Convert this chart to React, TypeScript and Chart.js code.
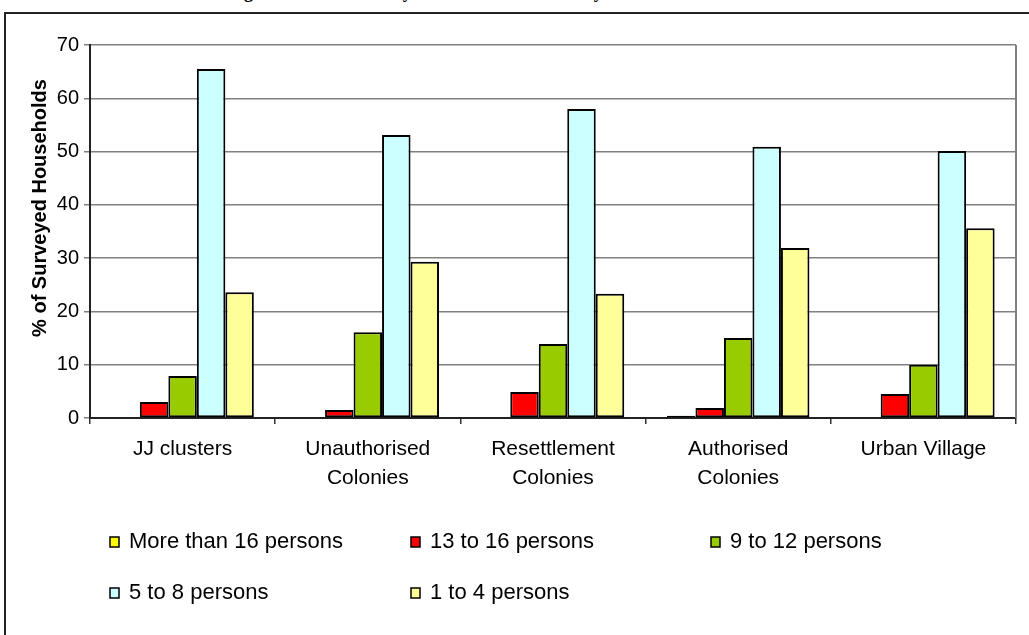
import React, { useEffect, useRef } from "react";
import { Chart, registerables } from "chart.js";

Chart.register(...registerables);

const categories: (string | string[])[] = [
  "JJ clusters",
  ["Unauthorised", "Colonies"],
  ["Resettlement", "Colonies"],
  ["Authorised", "Colonies"],
  "Urban Village",
];

const seriesNames = [
  "More than 16 persons",
  "13 to 16 persons",
  "9 to 12 persons",
  "5 to 8 persons",
  "1 to 4 persons",
];

const moreThan16 = [0, 0, 0, 0.4, 0];
const from13to16 = [3.0, 1.5, 4.9, 1.9, 4.5];
const from9to12 = [7.9, 16.1, 13.9, 15.0, 10.0];
const from5to8 = [65.5, 53.1, 58.0, 50.9, 50.1];
const from1to4 = [23.6, 29.3, 23.3, 31.9, 35.6];

const seriesColors = ["#FFFF00", "#FF0000", "#99CC00", "#CCFFFF", "#FFFF99"];

const yTicks = [0, 10, 20, 30, 40, 50, 60, 70];

const titleText = "Figure 4: Size of Family of Households in Surveyed Colonies";
const yAxisTitle = "% of Surveyed Households";

const FONT = "'Liberation Sans', Arial, sans-serif";

const legendPlugin = {
  id: "gridLegend",
  afterDraw(chart: any) {
    const ctx = chart.ctx;
    const cols = [110, 411, 711];
    const rows = [542, 593];
    ctx.save();
    chart.data.datasets.forEach((ds: any, i: number) => {
      const x = cols[i % 3];
      const y = rows[Math.floor(i / 3)];
      ctx.fillStyle = ds.backgroundColor;
      ctx.fillRect(x, y - 5, 9, 10);
      ctx.lineWidth = 1.5;
      ctx.strokeStyle = "#000";
      ctx.strokeRect(x, y - 5, 9, 10);
      ctx.fillStyle = "#000";
      ctx.font = `22px ${FONT}`;
      ctx.textBaseline = "middle";
      ctx.textAlign = "left";
      ctx.fillText(ds.label, x + 19, y);
    });
    ctx.restore();
  },
};

const yTitlePlugin = {
  id: "yTitle",
  afterDraw(chart: any) {
    const ctx = chart.ctx;
    ctx.save();
    ctx.translate(40, 208);
    ctx.rotate(-Math.PI / 2);
    ctx.fillStyle = "#000";
    ctx.font = `bold 20px ${FONT}`;
    ctx.textAlign = "center";
    ctx.textBaseline = "middle";
    ctx.fillText(yAxisTitle, 0, 0);
    ctx.restore();
  },
};

const borderPlugin = {
  id: "plotBorder",
  afterDatasetsDraw(chart: any) {
    const { ctx, chartArea } = chart;
    ctx.save();
    ctx.strokeStyle = "#808080";
    ctx.lineWidth = 2;
    ctx.beginPath();
    ctx.moveTo(chartArea.right, chartArea.top);
    ctx.lineTo(chartArea.right, chartArea.bottom);
    ctx.stroke();
    ctx.restore();
  },
};

export default function App() {
  const canvasRef = useRef<HTMLCanvasElement | null>(null);

  useEffect(() => {
    if (!canvasRef.current) return;
    const data = [moreThan16, from13to16, from9to12, from5to8, from1to4];
    const chart = new Chart(canvasRef.current, {
      type: "bar",
      data: {
        labels: categories,
        datasets: data.map((d, i) => ({
          label: seriesNames[i],
          data: d,
          backgroundColor: seriesColors[i],
          borderColor: "#000",
          borderWidth: 2,
          borderSkipped: false,
          categoryPercentage: 5 / 6.5,
          barPercentage: 1,
        })),
      },
      options: {
        responsive: false,
        animation: false,
        devicePixelRatio: 1,
        layout: { padding: { left: 0, top: 45, right: 13, bottom: 0 } },
        plugins: {
          legend: { display: false },
          title: { display: false },
          tooltip: { enabled: false },
        },
        scales: {
          x: {
            offset: true,
            grid: {
              offset: true,
              drawOnChartArea: false,
              drawTicks: true,
              tickLength: 6,
              color: "#333",
              lineWidth: 1.5,
            },
            border: { display: true, color: "#222", width: 2 },
            ticks: {
              color: "#000",
              padding: 11,
              font: { family: FONT, size: 21, lineHeight: 1.38 },
              maxRotation: 0,
              autoSkip: false,
            },
            afterFit: (scale: any) => {
              scale.height = 635 - 418;
            },
          },
          y: {
            min: 0,
            max: 70,
            afterBuildTicks: (scale: any) => {
              scale.ticks = yTicks.map((v) => ({ value: v }));
            },
            grid: {
              color: "#808080",
              lineWidth: 1.5,
              tickLength: 6,
              drawTicks: true,
            },
            border: { display: true, color: "#222", width: 2 },
            ticks: {
              color: "#000",
              padding: 5,
              font: { family: FONT, size: 20 },
            },
            title: { display: false },
            afterFit: (scale: any) => {
              scale.width = 90;
            },
          },
        },
      },
      plugins: [legendPlugin, borderPlugin, yTitlePlugin],
    });
    return () => chart.destroy();
  }, []);

  return (
    <div
      style={{
        position: "fixed",
        left: 0,
        top: 0,
        width: 1029,
        height: 635,
        overflow: "hidden",
        background: "#fff",
      }}
    >
      <div
        style={{
          position: "absolute",
          left: 228,
          top: -17,
          whiteSpace: "nowrap",
          fontFamily: "'Liberation Serif', 'Times New Roman', serif",
          fontWeight: "bold",
          fontSize: 18,
          lineHeight: "18px",
          color: "#000",
        }}
      >
        {titleText}
      </div>
      <div
        style={{
          position: "absolute",
          left: 4,
          top: 12,
          width: 1100,
          height: 700,
          borderLeft: "2px solid #222",
          borderTop: "2px solid #222",
        }}
      />
      <canvas
        ref={canvasRef}
        width={1029}
        height={635}
        style={{ position: "absolute", left: 0, top: 0 }}
      />
    </div>
  );
}
